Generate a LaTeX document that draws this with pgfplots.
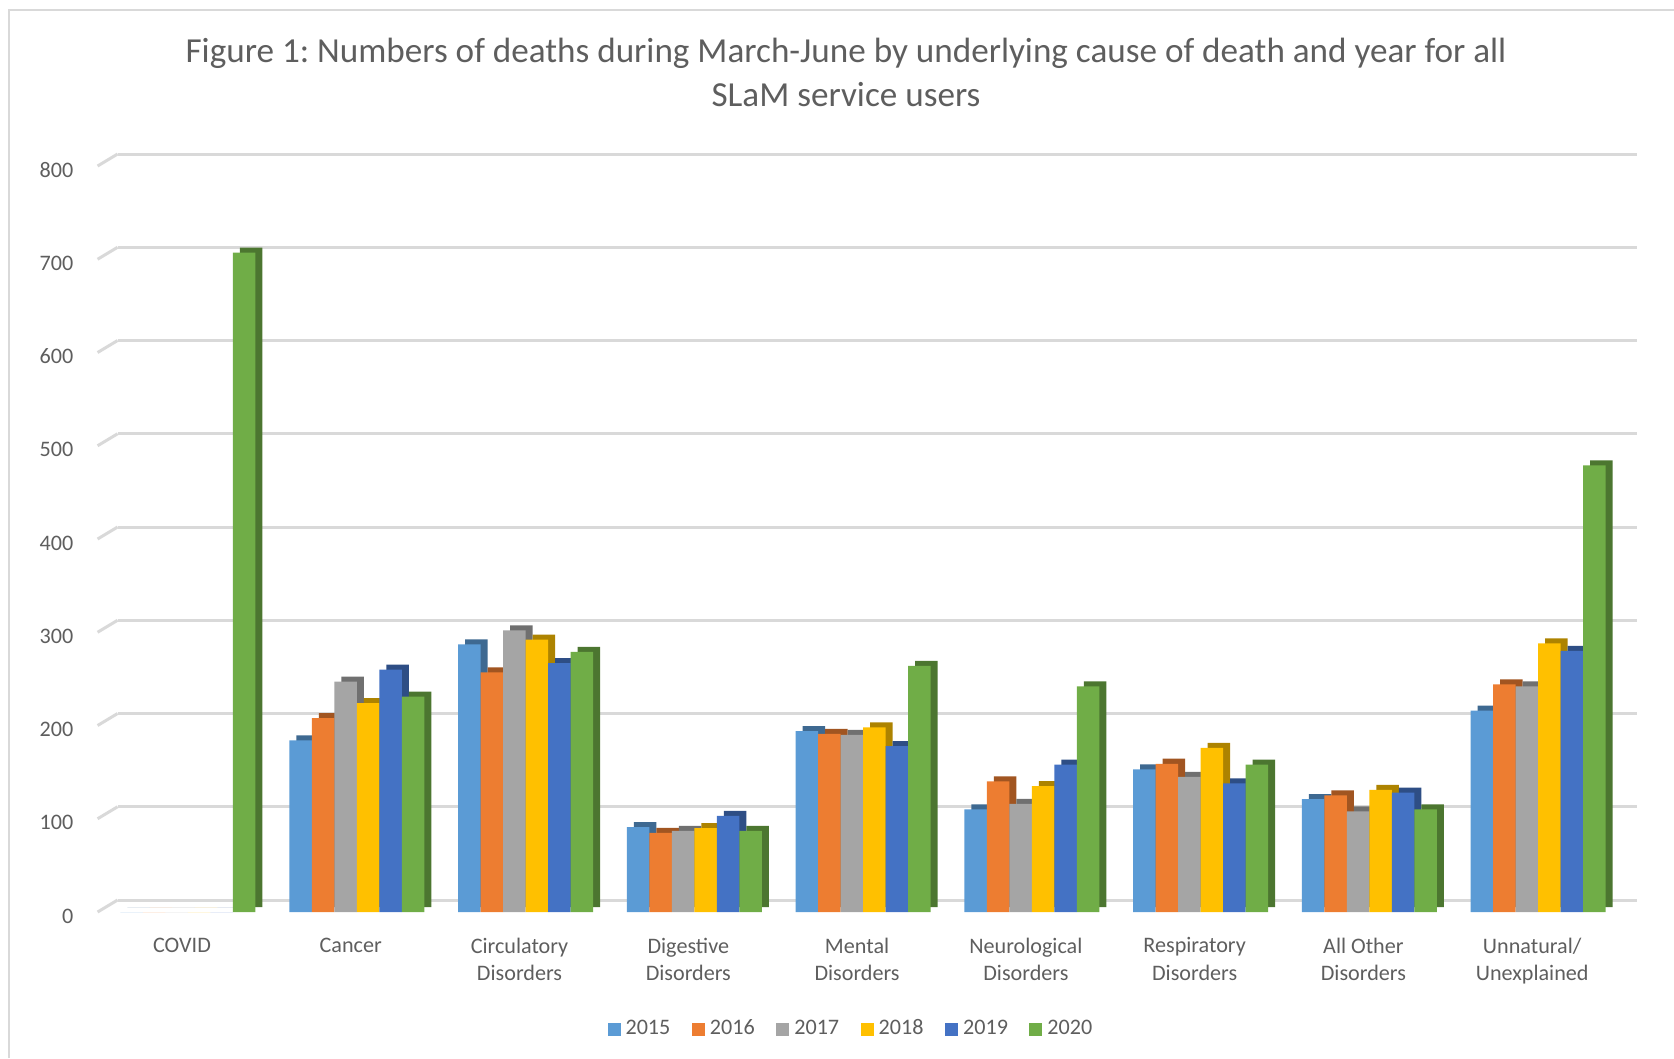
\documentclass[border=0pt]{standalone}
\usepackage{pgfplots}
\pgfplotsset{compat=1.18}
\usepackage{pgfplotstable}
\usepackage{fontspec}
\setmainfont{Carlito}
\frenchspacing
\definecolor{c15}{HTML}{5B9BD5}
\definecolor{c16}{HTML}{ED7D31}
\definecolor{c17}{HTML}{A5A5A5}
\definecolor{c18}{HTML}{FFC000}
\definecolor{c19}{HTML}{4472C4}
\definecolor{c20}{HTML}{70AD47}
\definecolor{txt}{HTML}{5E5E5E}
\definecolor{gridc}{HTML}{D9D9D9}
\pgfplotstableread{
x a b c d e f
0 0 0 0 0 0 707
1 184 208 247 224 260 231
2 287 257 302 292 267 279
3 91 85 87 90 103 87
4 194 191 190 198 178 264
5 110 140 116 135 158 242
6 153 159 145 176 138 158
7 121 125 108 131 128 110
8 216 244 242 288 280 479
}\data
\pgfplotsset{
  sqlegend/.style={legend image code/.code={\fill[##1] (0cm,-0.065cm) rectangle (0.13cm,0.065cm);}},
  side/.style={ybar, bar width=0.225cm, draw=none, forget plot, yshift=0.05cm, fill=#1!68!black},
  front/.style={ybar, bar width=0.225cm, draw=none, fill=#1, sqlegend},
}
\begin{document}
\begin{tikzpicture}
\useasboundingbox (0,0) rectangle (16.74,10.58);
\draw[gridc, line width=0.8pt] (0.09,0) -- (0.09,10.48) -- (16.74,10.48);
\node[txt, font=\fontsize{10.0}{12.6}\selectfont, align=center, anchor=north, inner sep=0pt] at (8.46,10.21)
  {Figure 1: Numbers of deaths during March-June by underlying cause of death and year for all\\SLaM service users};
\begin{axis}[
  scale only axis, width=15.19cm, height=7.46cm,
  at={(0.976cm,1.46cm)}, anchor=south west,
  xmin=-0.5, xmax=8.5, ymin=0, ymax=800,
  axis line style={draw=none}, major tick style={draw=none},
  ytick={0,100,...,800}, xtick={0,...,8},
  xticklabels={COVID, Cancer, {Circulatory\\Disorders}, {Digestive\\Disorders}, {Mental\\Disorders}, {Neurological\\Disorders}, {Respiratory\\Disorders}, {All Other\\Disorders}, {Unnatural/\\Unexplained}},
  /pgf/number format/assume math mode=true,
  yticklabel style={font=\fontsize{6.3}{7.9}\selectfont, text=txt, anchor=east, inner sep=0pt, xshift=-0.236cm, yshift=-0.04cm},
  xticklabel style={font=\fontsize{6.3}{7.9}\selectfont, text=txt, align=center, anchor=north, inner sep=0pt, yshift=-0.25cm},
  ymajorgrids, major grid style={gridc, line width=0.85pt, xshift=0.2cm, yshift=0.12cm},
  clip=false,
  legend columns=6,
  legend style={draw=none, at={(0.4953,-0.158)}, anchor=center, font=\fontsize{6.3}{7.9}\selectfont, text=txt,
    cells={anchor=west}, nodes={inner sep=0pt},
    /tikz/every odd column/.append style={column sep=0.05cm},
    /tikz/every even column/.append style={column sep=0.215cm}},
]
\pgfplotsinvokeforeach{0,100,...,800}{\draw[gridc, line width=0.85pt] (axis cs:-0.5,#1) -- ++(0.2cm,0.12cm);}
\addplot[side=c15, bar shift=-0.4325cm] table[x=x,y=a]{\data};
\addplot[side=c16, bar shift=-0.2075cm] table[x=x,y=b]{\data};
\addplot[side=c17, bar shift=0.0175cm] table[x=x,y=c]{\data};
\addplot[side=c18, bar shift=0.2425cm] table[x=x,y=d]{\data};
\addplot[side=c19, bar shift=0.4675cm] table[x=x,y=e]{\data};
\addplot[side=c20, bar shift=0.6925cm] table[x=x,y=f]{\data};
\addplot[front=c15, bar shift=-0.5025cm] table[x=x,y=a]{\data};
\addplot[front=c16, bar shift=-0.2775cm] table[x=x,y=b]{\data};
\addplot[front=c17, bar shift=-0.0525cm] table[x=x,y=c]{\data};
\addplot[front=c18, bar shift=0.1725cm] table[x=x,y=d]{\data};
\addplot[front=c19, bar shift=0.3975cm] table[x=x,y=e]{\data};
\addplot[front=c20, bar shift=0.6225cm] table[x=x,y=f]{\data};
\legend{2015,2016,2017,2018,2019,2020}
\end{axis}
\end{tikzpicture}
\end{document}
